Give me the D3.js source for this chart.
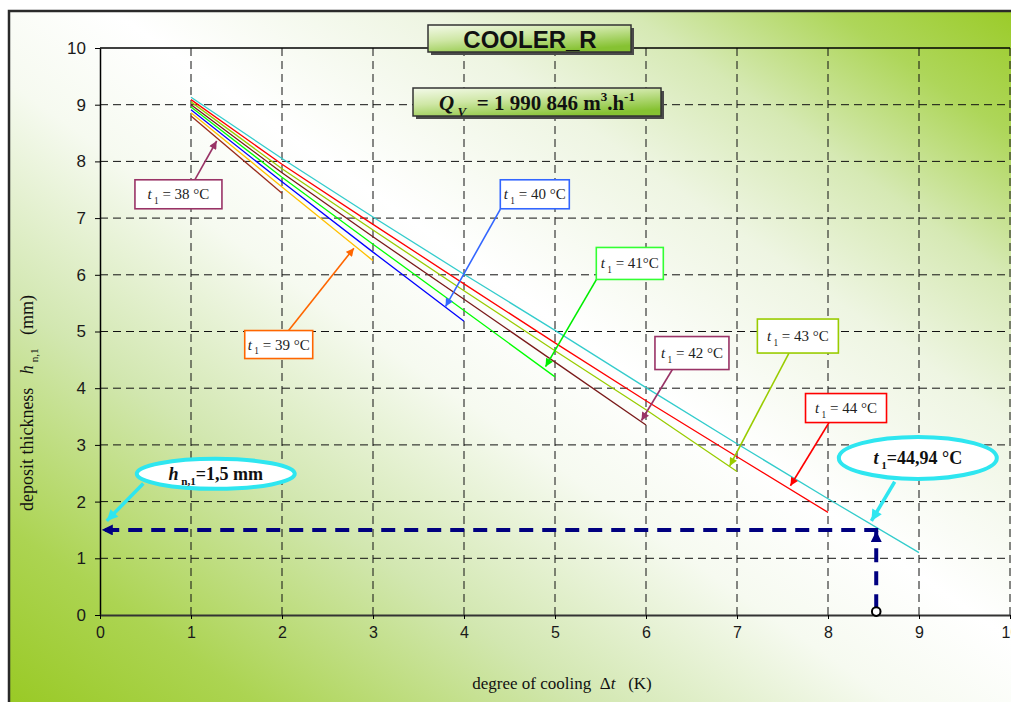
<!DOCTYPE html>
<html><head><meta charset="utf-8">
<script src="https://cdn.jsdelivr.net/npm/d3@7"></script>
<style>body{margin:0;background:#fff}svg{display:block}text{white-space:pre}</style>
</head><body>
<svg id="chart" width="1011" height="702"></svg>
<script>
// ---------------- data ----------------
const deltaT = [1, 2, 3, 4, 5, 6, 7, 8, 9];           // degree of cooling (K)
const t1Names = ["38", "39", "40", "41", "42", "43", "44", "44,94"];
const h38   = [8.80, 7.44];
const h39   = [8.86, 7.55, 6.25];
const h40   = [8.91, 7.64, 6.40, 5.18];
const h41   = [8.96, 7.72, 6.54, 5.37, 4.20];
const h42   = [9.00, 7.80, 6.67, 5.57, 4.46, 3.35];
const h43   = [9.05, 7.87, 6.79, 5.72, 4.66, 3.62, 2.53];
const h44   = [9.09, 7.95, 6.89, 5.84, 4.80, 3.78, 2.79, 1.81];
const h4494 = [9.13, 8.05, 7.02, 6.01, 5.02, 4.01, 3.02, 2.05, 1.10];
const xTickValues = [0, 1, 2, 3, 4, 5, 6, 7, 8, 9, 10];
const yTickValues = [0, 1, 2, 3, 4, 5, 6, 7, 8, 9, 10];
const readThickness = 1.5;   // h n,1 (mm)
const readCooling = 8.53;    // Δt (K) on the 44,94 °C line

// ---------------- styles / layout ----------------
const seriesList = [h38, h39, h40, h41, h42, h43, h44, h4494];
const lineColors = ["#9a2a1a", "#ffc000", "#0000ff", "#00ff00", "#7a1a1a", "#99cc00", "#ff0000", "#33cccc"];
const noteColors = ["#993366", "#ff6600", "#3366ff", "#00ee00", "#993366", "#99cc00", "#ff0000"];
// label boxes: centre and arrow ends in data units, size in px
const noteLayout = [
  {cx: 0.862, cy: 7.42, w: 87, h: 29, sx: 1.043, sy: 7.68, tx: 1.282, ty: 8.36, txt: " = 38 °C"},
  {cx: 1.964, cy: 4.77, w: 68, h: 28, sx: 2.068, sy: 5.01, tx: 2.790, ty: 6.47, txt: " = 39 °C"},
  {cx: 4.778, cy: 7.42, w: 69, h: 29, sx: 4.400, sy: 7.16, tx: 3.797, ty: 5.44, txt: " = 40 °C"},
  {cx: 5.822, cy: 6.20, w: 67, h: 32, sx: 5.456, sy: 5.92, tx: 4.896, ty: 4.38, txt: " = 41°C"},
  {cx: 6.505, cy: 4.62, w: 74, h: 33, sx: 6.290, sy: 4.33, tx: 5.950, ty: 3.43, txt: " = 42 °C"},
  {cx: 7.669, cy: 4.92, w: 81, h: 34, sx: 7.571, sy: 4.62, tx: 6.920, ty: 2.63, txt: " = 43 °C"},
  {cx: 8.198, cy: 3.65, w: 81, h: 29, sx: 8.010, sy: 3.39, tx: 7.587, ty: 2.28, txt: " = 44 °C"}
];

const svg = d3.select("#chart");
const defs = svg.append("defs");

// background gradient
const bg = defs.append("linearGradient").attr("id", "bg")
  .attr("x1", 0).attr("y1", 1).attr("x2", 1).attr("y2", 0);
[[0, "#96c81e"], [0.14, "#acd452"], [0.3, "#d2e7b0"], [0.45, "#f6faf0"], [0.55, "#ffffff"],
 [0.7, "#eef5e2"], [0.8, "#d6e9b4"], [0.9, "#aed65a"], [1, "#98ca22"]]
  .forEach(s => bg.append("stop").attr("offset", s[0]).attr("stop-color", s[1]));

const boxGrad = defs.append("linearGradient").attr("id", "boxg")
  .attr("x1", 0).attr("y1", 0).attr("x2", 0.6).attr("y2", 1);
[[0, "#f4faea"], [0.45, "#cfe7a6"], [1, "#86c232"]]
  .forEach(s => boxGrad.append("stop").attr("offset", s[0]).attr("stop-color", s[1]));

function marker(id, color, w, h) {
  defs.append("marker").attr("id", id)
    .attr("viewBox", "0 0 10 10").attr("refX", 10).attr("refY", 5)
    .attr("markerWidth", w).attr("markerHeight", h)
    .attr("markerUnits", "userSpaceOnUse").attr("orient", "auto")
    .append("path").attr("d", "M0,0L10,5L0,10Z").attr("fill", color);
}
noteColors.forEach((c, i) => marker("m" + i, c, 9, 8));
marker("mcyan", "#2ee6f0", 13, 11);
marker("mnavy", "#000080", 11, 11);

// frame
svg.append("rect").attr("x", 9).attr("y", 11).attr("width", 1030).attr("height", 720)
  .attr("fill", "url(#bg)").attr("stroke", "#2a2a2a").attr("stroke-width", 2.5);

const x = d3.scaleLinear().domain([0, 10]).range([100, 1010]);
const y = d3.scaleLinear().domain([0, 10]).range([615, 48]);

// grid
const grid = svg.append("g");
grid.selectAll("line.v").data(xTickValues.filter(d => d > 0)).join("line")
  .attr("x1", d => x(d)).attr("x2", d => x(d)).attr("y1", y(0)).attr("y2", y(10))
  .attr("stroke", "#111").attr("stroke-width", 1).attr("stroke-dasharray", "8,5");
grid.selectAll("line.h").data(yTickValues.filter(d => d > 0 && d < 10)).join("line")
  .attr("x1", x(0)).attr("x2", x(10)).attr("y1", d => y(d)).attr("y2", d => y(d))
  .attr("stroke", "#111").attr("stroke-width", 1).attr("stroke-dasharray", "8,5");
grid.append("line").attr("x1", x(0)).attr("x2", x(10)).attr("y1", y(10)).attr("y2", y(10))
  .attr("stroke", "#000").attr("stroke-width", 1.3);

// axes
const yAxis = svg.append("g").attr("transform", `translate(${x(0)},0)`)
  .call(d3.axisLeft(y).tickValues(yTickValues).tickSize(5).tickSizeOuter(0).tickPadding(9).tickFormat(d3.format("d")));
yAxis.select(".domain").attr("stroke", "#000").attr("stroke-width", 1.5);
yAxis.selectAll("text").attr("font-family", "Liberation Sans, Arial, sans-serif").attr("font-size", 17).attr("fill", "#1a1a1a");

const xAxis = svg.append("g").attr("transform", `translate(0,${y(0)})`)
  .call(d3.axisBottom(x).tickValues(xTickValues).tickSize(4).tickSizeOuter(0).tickPadding(8).tickFormat(d3.format("d")));
xAxis.select(".domain").attr("stroke", "#333").attr("stroke-width", 2.2);
xAxis.selectAll("text").attr("font-family", "Liberation Sans, Arial, sans-serif").attr("font-size", 16).attr("fill", "#1a1a1a");

// series lines
const line = d3.line().x((d, i) => x(deltaT[i])).y(d => y(d));
svg.append("g").selectAll("path").data(seriesList).join("path")
  .attr("d", d => line(d)).attr("fill", "none")
  .attr("stroke", (d, i) => lineColors[i]).attr("stroke-width", 1.3);

// rich text helper
function rich(sel, parts, size) {
  let shift = 0;
  parts.forEach(p => {
    const ts = sel.append("tspan").text(p.t);
    if (p.it) ts.attr("font-style", "italic");
    const target = p.sub ? size * 0.3 : p.sup ? -size * 0.42 : 0;
    if (target !== shift) { ts.attr("dy", target - shift); shift = target; }
    if (p.sub || p.sup) ts.attr("font-size", size * 0.62);
  });
}

// label boxes with arrows
const notes = svg.append("g");
noteLayout.forEach((n, i) => {
  notes.append("line")
    .attr("x1", x(n.sx)).attr("y1", y(n.sy)).attr("x2", x(n.tx)).attr("y2", y(n.ty))
    .attr("stroke", noteColors[i]).attr("stroke-width", 1.6).attr("marker-end", `url(#m${i})`);
  notes.append("rect")
    .attr("x", x(n.cx) - n.w / 2).attr("y", y(n.cy) - n.h / 2).attr("width", n.w).attr("height", n.h)
    .attr("fill", "#fff").attr("stroke", i === 3 ? "#33ff33" : noteColors[i]).attr("stroke-width", 1.6);
  const t = notes.append("text").attr("x", x(n.cx)).attr("y", y(n.cy) + 5)
    .attr("text-anchor", "middle").attr("font-family", "Liberation Serif, Times New Roman, serif")
    .attr("font-size", 15).attr("fill", "#222");
  rich(t, [{t: "t", it: true}, {t: " 1", sub: true}, {t: n.txt}], 15);
});

// reading lines (navy dashed)
const navy = svg.append("g");
navy.append("line")
  .attr("x1", x(readCooling) + 2).attr("y1", y(readThickness))
  .attr("x2", x(0.02)).attr("y2", y(readThickness))
  .attr("stroke", "#000080").attr("stroke-width", 4).attr("stroke-dasharray", "14,9")
  .attr("marker-end", "url(#mnavy)");
navy.append("line")
  .attr("x1", x(readCooling)).attr("y1", y(0.12))
  .attr("x2", x(readCooling)).attr("y2", y(readThickness) + 1)
  .attr("stroke", "#000080").attr("stroke-width", 4).attr("stroke-dasharray", "14,9")
  .attr("marker-end", "url(#mnavy)");
navy.append("circle").attr("cx", x(readCooling)).attr("cy", y(0.06)).attr("r", 4.3)
  .attr("fill", "#fff").attr("stroke", "#000").attr("stroke-width", 2);

// cyan callouts
const callouts = [
  {cx: 1.272, cy: 2.49, rx: 79, ry: 15, sx: 0.476, sy: 2.32, tx: 0.074, ty: 1.66,
   parts: [{t: "h", it: true}, {t: " n,1", sub: true}, {t: "=1,5 mm"}]},
  {cx: 8.987, cy: 2.77, rx: 79, ry: 21, sx: 8.733, sy: 2.35, tx: 8.477, ty: 1.66,
   parts: [{t: "t", it: true}, {t: " 1", sub: true}, {t: "=44,94 °C"}]}
];
callouts.forEach(c => {
  svg.append("line").attr("x1", x(c.sx)).attr("y1", y(c.sy)).attr("x2", x(c.tx)).attr("y2", y(c.ty))
    .attr("stroke", "#2ee6f0").attr("stroke-width", 3.5).attr("marker-end", "url(#mcyan)");
  svg.append("ellipse").attr("cx", x(c.cx)).attr("cy", y(c.cy)).attr("rx", c.rx).attr("ry", c.ry)
    .attr("fill", "#fff").attr("stroke", "#2ee6f0").attr("stroke-width", 4);
  const t = svg.append("text").attr("x", x(c.cx)).attr("y", y(c.cy) + 6)
    .attr("text-anchor", "middle").attr("font-family", "Liberation Serif, Times New Roman, serif")
    .attr("font-size", 18).attr("font-weight", "bold").attr("fill", "#111");
  rich(t, c.parts, 18);
});

// title boxes
function titleBox(x0, y0, w, h) {
  svg.append("rect").attr("x", x0 + 3).attr("y", y0 + 3).attr("width", w).attr("height", h).attr("fill", "#4a4a4a");
  svg.append("rect").attr("x", x0).attr("y", y0).attr("width", w).attr("height", h)
    .attr("fill", "url(#boxg)").attr("stroke", "#333").attr("stroke-width", 1.5);
}
titleBox(428, 25, 203, 27);
svg.append("text").attr("x", 530).attr("y", 48).attr("text-anchor", "middle")
  .attr("font-family", "Liberation Sans, Arial, sans-serif").attr("font-weight", "bold")
  .attr("font-size", 24).attr("fill", "#111").text("COOLER_R");

titleBox(413, 88, 248, 28);
const qv = svg.append("text").attr("x", 537).attr("y", 110).attr("text-anchor", "middle")
  .attr("font-family", "Liberation Serif, Times New Roman, serif").attr("font-weight", "bold")
  .attr("font-size", 21).attr("fill", "#111");
rich(qv, [{t: "Q", it: true}, {t: " V", sub: true, it: true}, {t: "  = 1 990 846 m"}, {t: "3", sup: true}, {t: ".h"}, {t: "-1", sup: true}], 21);

// axis titles
const xt = svg.append("text").attr("x", 562).attr("y", 689).attr("text-anchor", "middle")
  .attr("font-family", "Liberation Serif, Times New Roman, serif").attr("font-size", 17).attr("fill", "#111");
rich(xt, [{t: "degree of cooling  Δ"}, {t: "t", it: true}, {t: "   (K)"}], 17);

const yt = svg.append("text").attr("transform", "translate(33,403) rotate(-90)").attr("text-anchor", "middle")
  .attr("font-family", "Liberation Serif, Times New Roman, serif").attr("font-size", 18).attr("fill", "#111");
rich(yt, [{t: "deposit thickness   "}, {t: "h", it: true}, {t: " n,1", sub: true}, {t: "   (mm)"}], 18);
</script>
</body></html>
